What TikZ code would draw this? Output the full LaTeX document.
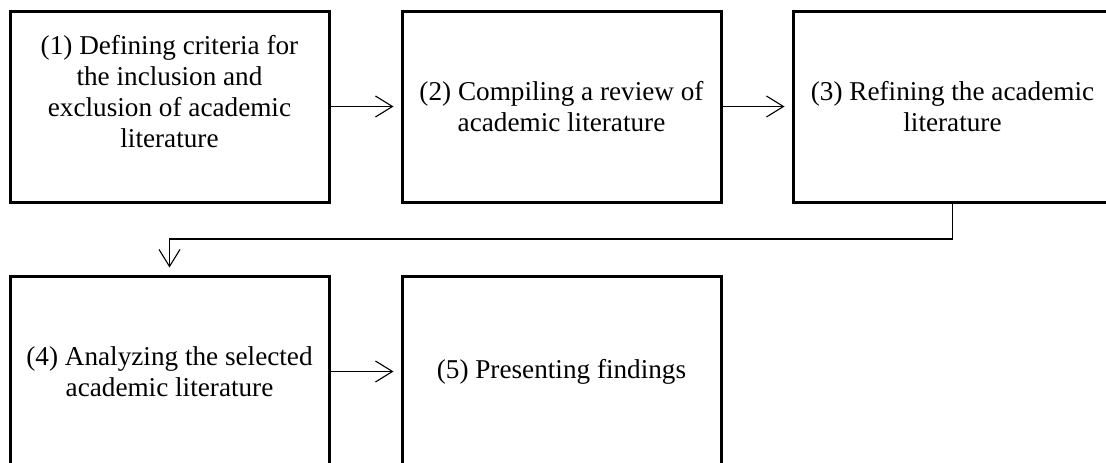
\documentclass[tikz,border=0pt]{standalone}
\usepackage{fontspec}
\setmainfont{Liberation Serif}
\usetikzlibrary{arrows.meta}
\begin{document}
\begin{tikzpicture}[x=1pt,y=1pt,
  stagetext/.style={align=center, font=\fontsize{27.2}{31}\selectfont},
  stagebox/.style={draw=black, line width=3pt, minimum width=319pt, minimum height=191pt,
    inner sep=0pt, stagetext},
  flow/.style={draw=black, line width=1.1pt,
    -{Straight Barb[length=17pt,width=21pt,line width=1.1pt]}, shorten >=7pt}]
  \useasboundingbox (0,0) rectangle (1106,-463);
  \clip (0,0) rectangle (1106,-463);
  % top row; the first box sets its four lines a little above the middle
  \node[stagebox, label={[stagetext, yshift=15pt]center:(1) Defining criteria for\\the inclusion and\\exclusion of academic\\literature}] (s1) at (169.5,-106.5) {};
  \node[stagebox] (s2) at (561.5,-106.5) {(2) Compiling a review of\\academic literature};
  \node[stagebox] (s3) at (952.5,-106.5) {(3) Refining the academic\\literature};
  % bottom row
  \node[stagebox] (s4) at (169.5,-371.5) {(4) Analyzing the selected\\academic literature};
  \node[stagebox] (s5) at (561.5,-371.5) {(5) Presenting findings};
  % connectors
  \coordinate (turn) at (0,-239);
  \draw[flow] (s1.east) -- (s2.west);
  \draw[flow] (s2.east) -- (s3.west);
  \draw[flow] (s3.south) -- (s3.south |- turn) -| (s4.north);
  \draw[flow] (s4.east) -- (s5.west);
\end{tikzpicture}
\end{document}
